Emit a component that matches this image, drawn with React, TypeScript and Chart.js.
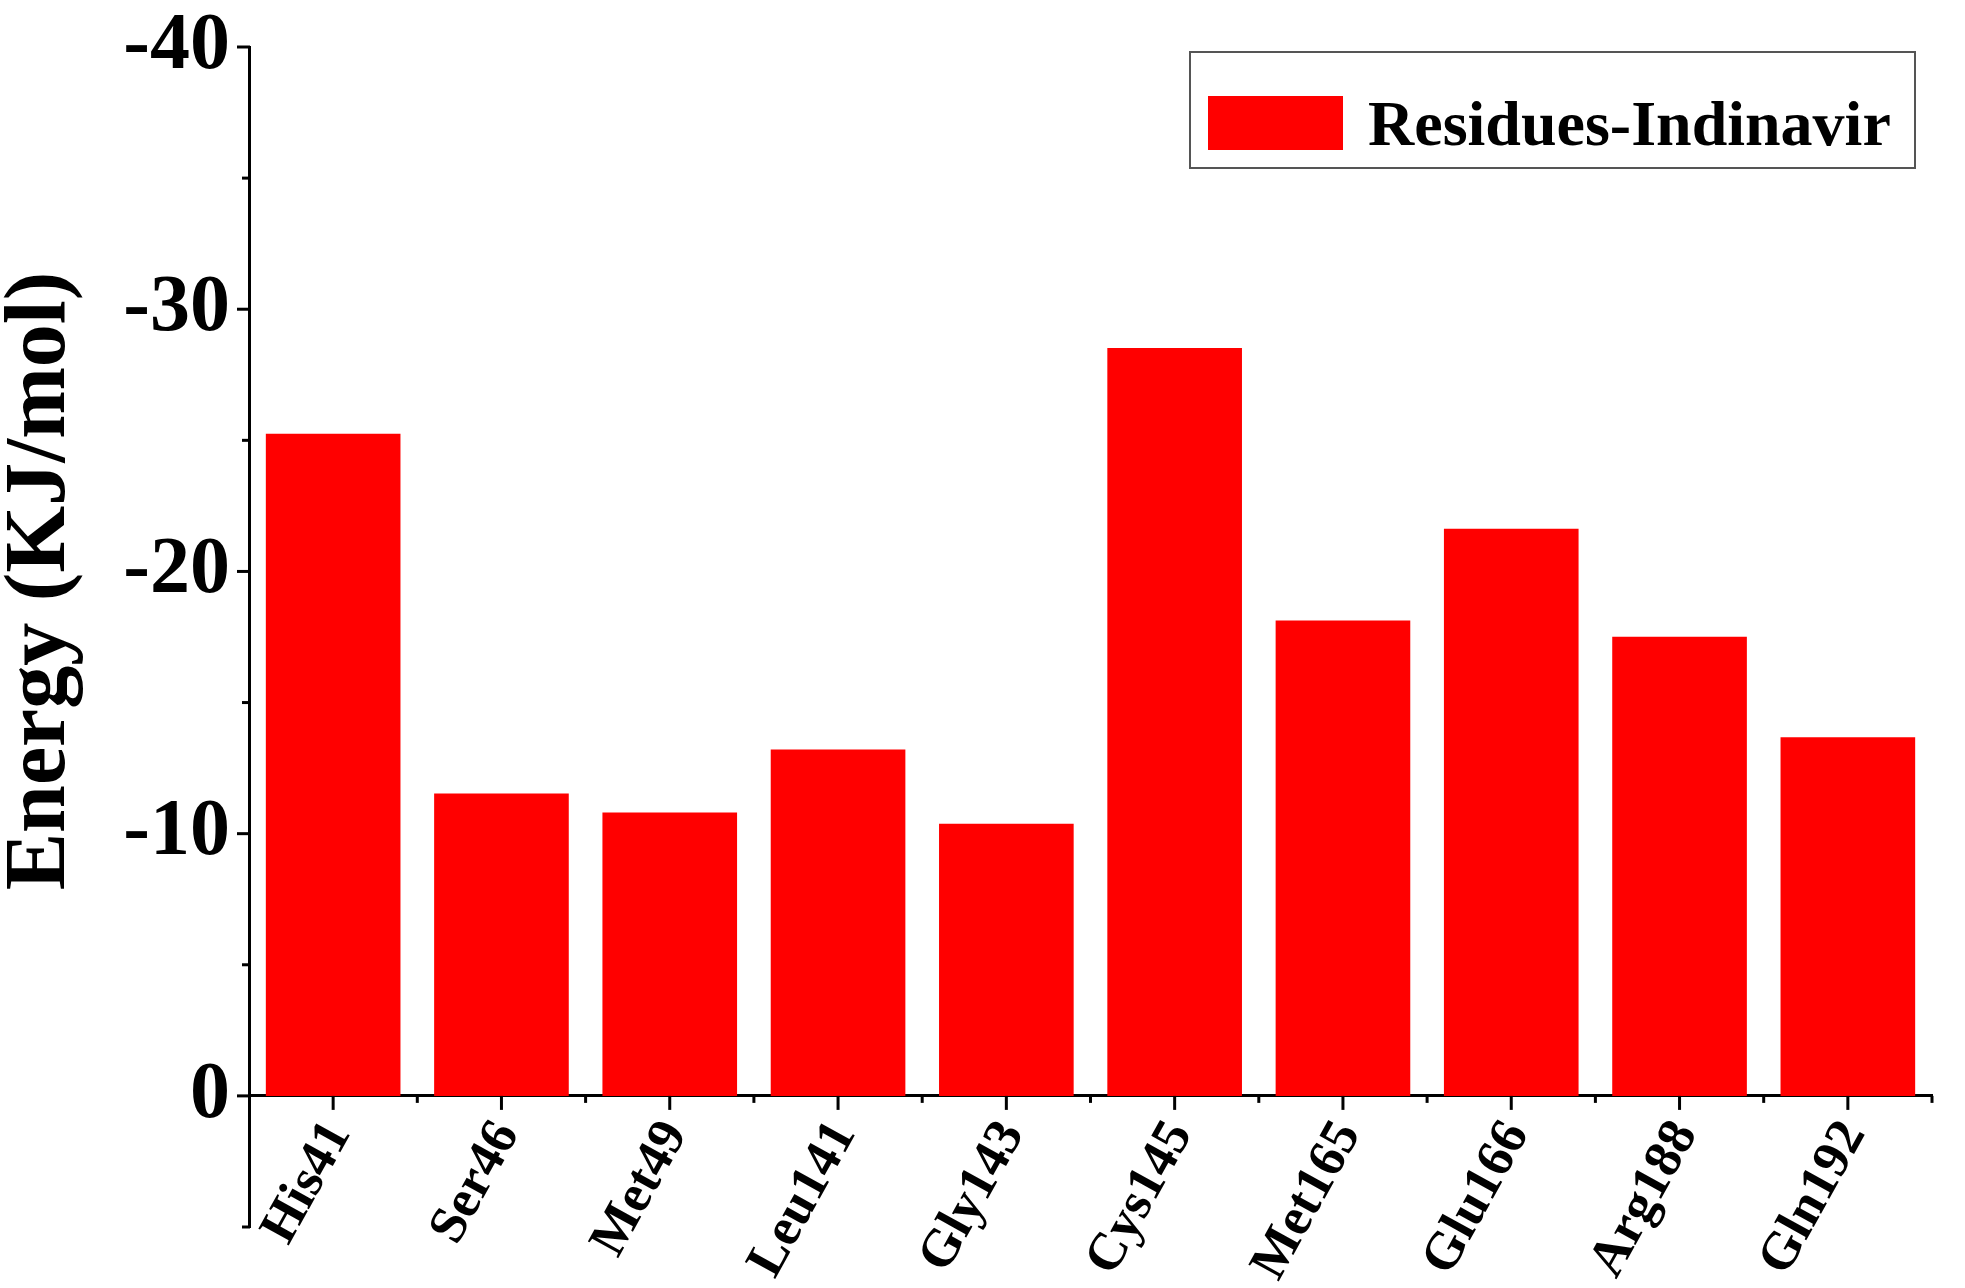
import React, { useEffect, useRef } from 'react';
import { Chart, registerables } from 'chart.js';

Chart.register(...registerables);

// ---- data ----
const categories = ['His41', 'Ser46', 'Met49', 'Leu141', 'Gly143', 'Cys145', 'Met165', 'Glu166', 'Arg188', 'Gln192'];
const energies = [-25.25, -11.53, -10.81, -13.21, -10.38, -28.52, -18.13, -21.63, -17.51, -13.68];
const seriesLabel = 'Residues-Indinavir';
const yTitle = 'Energy (KJ/mol)';
const yMin = -40;
const yMax = 5;
const yMajorStep = 10;
const yMinorStep = 5;

const FONT = '"Liberation Serif", "Times New Roman", Times, serif';
const BAR_COLOR = '#ff0000';

const decorPlugin = {
  id: 'decor',
  afterDraw(chart: any) {
    const ctx = chart.ctx as CanvasRenderingContext2D;
    const xs = chart.scales.x;
    const ys = chart.scales.y;
    const area = chart.chartArea;
    ctx.save();
    ctx.strokeStyle = '#000';
    ctx.lineWidth = 3;
    ctx.lineCap = 'butt';
    const line = (x1: number, y1: number, x2: number, y2: number) => {
      ctx.beginPath();
      ctx.moveTo(x1, y1);
      ctx.lineTo(x2, y2);
      ctx.stroke();
    };
    const axisX = area.left;
    // y ticks (major / minor)
    for (let v = yMin; v <= yMax; v += yMinorStep) {
      const py = ys.getPixelForValue(v);
      const len = v % yMajorStep === 0 ? 12 : 7;
      line(axisX - len, py, axisX + 1, py);
    }
    // x ticks: major at category centres, minor at boundaries
    const zeroY = ys.getPixelForValue(0);
    const n = categories.length;
    const centers: number[] = [];
    for (let i = 0; i < n; i++) centers.push(xs.getPixelForValue(i));
    centers.forEach((px) => line(px, zeroY, px, zeroY + 14));
    for (let i = 1; i <= n; i++) {
      const px = i === n ? area.right : (centers[i - 1] + centers[i]) / 2;
      line(px, zeroY, px, zeroY + 7);
    }

    // y title
    ctx.save();
    ctx.fillStyle = '#000';
    ctx.font = `bold 86px ${FONT}`;
    ctx.translate(64, 581);
    ctx.rotate(-Math.PI / 2);
    ctx.textAlign = 'center';
    ctx.textBaseline = 'alphabetic';
    ctx.fillText(yTitle, 0, 0);
    ctx.restore();

    // legend
    const ds = chart.data.datasets[0];
    ctx.save();
    ctx.strokeStyle = '#555';
    ctx.lineWidth = 2;
    ctx.strokeRect(1190, 52, 725, 116);
    ctx.fillStyle = ds.backgroundColor;
    ctx.fillRect(1208, 96, 135, 54);
    ctx.fillStyle = '#000';
    ctx.font = `bold 64px ${FONT}`;
    ctx.textBaseline = 'alphabetic';
    ctx.textAlign = 'left';
    ctx.fillText(ds.label, 1368, 144.5);
    ctx.restore();

    ctx.restore();
  },
};

export default function App() {
  const canvasRef = useRef<HTMLCanvasElement | null>(null);

  useEffect(() => {
    document.body.style.margin = '0';
    const canvas = canvasRef.current;
    if (!canvas) return;
    const chart = new Chart(canvas, {
      type: 'bar',
      data: {
        labels: categories,
        datasets: [
          {
            label: seriesLabel,
            data: energies,
            backgroundColor: BAR_COLOR,
            borderWidth: 0,
            barPercentage: 0.8,
            categoryPercentage: 1.0,
          },
        ],
      },
      options: {
        responsive: false,
        animation: false,
        devicePixelRatio: 1,
        layout: { padding: { top: 47, right: 33, bottom: 61, left: 0 } },
        plugins: {
          legend: { display: false },
          tooltip: { enabled: false },
          title: { display: false },
        },
        scales: {
          x: {
            type: 'category',
            position: { y: 0 } as any,
            offset: true,
            grid: { display: false, drawTicks: false, offset: true },
            border: { display: true, color: '#000', width: 3 },
            ticks: {
              color: '#000',
              font: { family: FONT, size: 53, weight: 'bold' },
              minRotation: 61,
              maxRotation: 61,
              autoSkip: false,
              padding: 15,
              labelOffset: 6,
            },
            afterFit: (scale: any) => {
              scale.paddingLeft = 0;
              scale.paddingRight = 0;
            },
          },
          y: {
            type: 'linear',
            reverse: true,
            min: yMin,
            max: yMax,
            grid: { display: false, drawTicks: false },
            border: { display: true, color: '#000', width: 3 },
            ticks: {
              stepSize: yMinorStep,
              color: '#000',
              font: { family: FONT, size: 80, weight: 'bold' },
              padding: 19,
              callback: (v: any) => (Number(v) % yMajorStep === 0 && Number(v) <= 0 ? String(v) : ''),
            },
            afterFit: (scale: any) => {
              scale.width = 249;
              scale.paddingTop = 0;
              scale.paddingBottom = 0;
            },
          },
        },
      },
      plugins: [decorPlugin],
    });
    return () => chart.destroy();
  }, []);

  return (
    <div style={{ position: 'fixed', left: 0, top: 0, width: 1965, height: 1288, background: '#fff' }}>
      <canvas ref={canvasRef} width={1965} height={1288} style={{ display: 'block' }} />
    </div>
  );
}
